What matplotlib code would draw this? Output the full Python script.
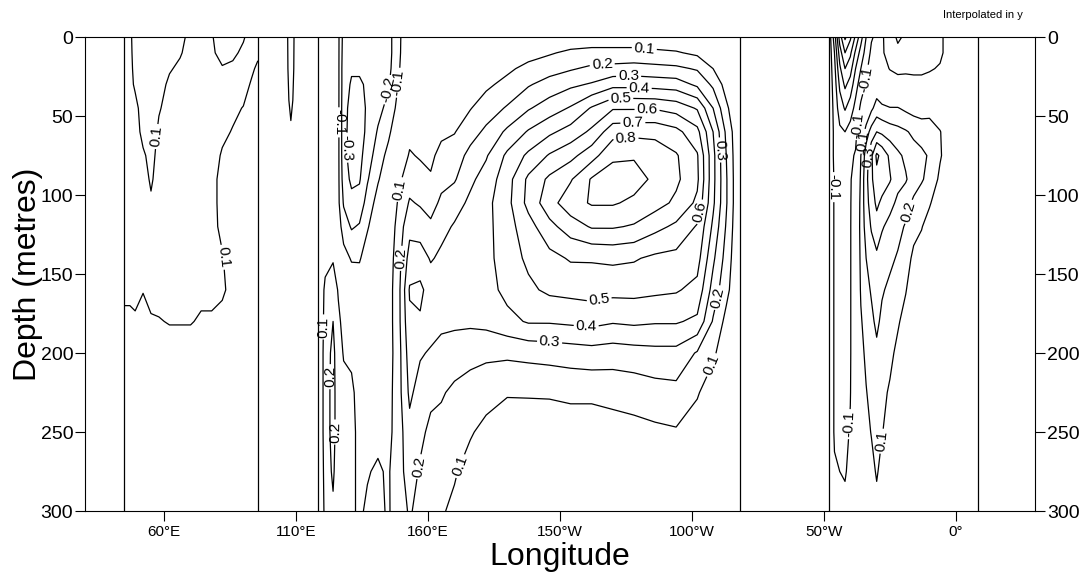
import numpy as np
import matplotlib.pyplot as plt

plt.rcParams["font.family"] = ["Liberation Sans", "DejaVu Sans"]
plt.rcParams["contour.negative_linestyle"] = "solid"

# Depth levels (m) shared by the three ocean sections
DEPTH = [0, 10, 20, 30, 45, 60, 75, 90, 105, 120, 140, 160, 180, 200, 225, 250, 275, 300]

# Indian Ocean: zonal velocity (m/s), one depth profile per longitude (deg E)
IND_LON = [44.8, 47, 49, 52, 55, 58, 62, 66, 70, 74, 78, 82, 86, 90, 93, 95.5]
IND_U = [
    [0.12, 0.12, 0.12, 0.12, 0.12, 0.12, 0.12, 0.12, 0.12, 0.12, 0.12, 0.12, 0.08, 0.05, 0.04, 0.03, 0.03, 0.03],
    [0.12, 0.12, 0.12, 0.12, 0.13, 0.13, 0.13, 0.13, 0.13, 0.13, 0.13, 0.12, 0.08, 0.05, 0.04, 0.03, 0.03, 0.03],
    [0.06, 0.07, 0.08, 0.09, 0.12, 0.13, 0.14, 0.14, 0.14, 0.14, 0.14, 0.12, 0.09, 0.05, 0.04, 0.03, 0.03, 0.03],
    [0.04, 0.04, 0.05, 0.06, 0.07, 0.08, 0.11, 0.13, 0.14, 0.14, 0.14, 0.105, 0.06, 0.05, 0.04, 0.03, 0.03, 0.03],
    [0.03, 0.03, 0.04, 0.05, 0.06, 0.07, 0.08, 0.09, 0.11, 0.13, 0.14, 0.13, 0.09, 0.05, 0.04, 0.03, 0.03, 0.03],
    [0.04, 0.05, 0.06, 0.08, 0.095, 0.11, 0.12, 0.13, 0.14, 0.14, 0.14, 0.13, 0.095, 0.06, 0.04, 0.03, 0.03, 0.03],
    [0.06, 0.08, 0.095, 0.11, 0.12, 0.13, 0.13, 0.14, 0.14, 0.14, 0.14, 0.13, 0.105, 0.06, 0.04, 0.03, 0.03, 0.03],
    [0.08, 0.095, 0.11, 0.12, 0.13, 0.13, 0.13, 0.14, 0.14, 0.14, 0.14, 0.13, 0.105, 0.06, 0.04, 0.03, 0.03, 0.03],
    [0.12, 0.12, 0.13, 0.13, 0.13, 0.13, 0.13, 0.13, 0.13, 0.13, 0.13, 0.13, 0.105, 0.06, 0.04, 0.03, 0.03, 0.03],
    [0.12, 0.13, 0.13, 0.13, 0.13, 0.13, 0.13, 0.13, 0.13, 0.13, 0.13, 0.12, 0.09, 0.06, 0.04, 0.03, 0.03, 0.03],
    [0.105, 0.11, 0.12, 0.13, 0.13, 0.13, 0.12, 0.12, 0.12, 0.12, 0.12, 0.12, 0.09, 0.05, 0.04, 0.03, 0.03, 0.03],
    [0.07, 0.08, 0.105, 0.12, 0.12, 0.11, 0.095, 0.08, 0.08, 0.085, 0.105, 0.11, 0.08, 0.05, 0.04, 0.03, 0.03, 0.03],
    [0.06, 0.09, 0.11, 0.115, 0.11, 0.097, 0.08, 0.06, 0.05, 0.05, 0.06, 0.08, 0.06, 0.05, 0.04, 0.03, 0.03, 0.03],
    [0.095, 0.11, 0.12, 0.12, 0.098, 0.08, 0.06, 0.05, 0.05, 0.05, 0.05, 0.05, 0.05, 0.04, 0.04, 0.03, 0.03, 0.03],
    [0.12, 0.12, 0.11, 0.095, 0.07, 0.06, 0.05, 0.05, 0.04, 0.04, 0.04, 0.04, 0.04, 0.04, 0.03, 0.03, 0.03, 0.03],
    [0.12, 0.11, 0.09, 0.07, 0.05, 0.05, 0.04, 0.04, 0.04, 0.04, 0.04, 0.04, 0.04, 0.03, 0.03, 0.03, 0.03, 0.03],
]

# Indonesian passages
MAR_LON = [95.5, 100, 104, 106, 108, 110, 113, 118.2]
MAR_DEPTH = [0, 20, 40, 55, 70, 100, 300]
MAR_U = [
    [0.0, 0.0, 0.0, 0.0, 0.0, 0.0, 0.0],
    [0.0, 0.0, 0.0, 0.0, 0.0, 0.0, 0.0],
    [0.0, 0.0, 0.0, 0.0, 0.0, 0.0, 0.0],
    [0.06, 0.06, 0.05, 0.04, 0.02, 0.0, 0.0],
    [0.16, 0.15, 0.13, 0.095, 0.05, 0.0, 0.0],
    [0.06, 0.06, 0.05, 0.04, 0.02, 0.0, 0.0],
    [0.0, 0.0, 0.0, 0.0, 0.0, 0.0, 0.0],
    [0.0, 0.0, 0.0, 0.0, 0.0, 0.0, 0.0],
]

# Pacific Ocean
PAC_LON = [118.2, 121, 124, 126, 128, 131, 134, 137, 141, 145, 149, 153, 157, 161, 165,
           170, 176, 182, 190, 198, 206, 214, 222, 230, 238, 246, 254, 262, 268, 273, 278.1]
PAC_U = [
    [0, 0, 0, 0, 0, 0, 0, 0, 0, 0, 0, 0, 0, 0, 0, 0, 0, 0],
    [-0.02, -0.02, -0.02, -0.02, -0.02, -0.02, -0.02, -0.02, -0.01, 0.0, 0.07, 0.12, 0.13, 0.14, 0.14, 0.14, 0.13, 0.12],
    [-0.05, -0.05, -0.05, -0.05, -0.05, -0.05, -0.05, -0.05, -0.05, -0.02, 0.09, 0.16, 0.2, 0.23, 0.24, 0.24, 0.22, 0.18],
    [-0.08, -0.08, -0.08, -0.08, -0.08, -0.08, -0.08, -0.08, -0.08, -0.05, 0.02, 0.09, 0.12, 0.13, 0.13, 0.13, 0.12, 0.12],
    [-0.24, -0.25, -0.26, -0.26, -0.27, -0.27, -0.27, -0.25, -0.21, -0.15, -0.06, 0.03, 0.07, 0.095, 0.12, 0.12, 0.12, 0.12],
    [-0.26, -0.27, -0.29, -0.31, -0.33, -0.34, -0.34, -0.32, -0.27, -0.21, -0.11, -0.03, 0.04, 0.09, 0.11, 0.11, 0.11, 0.11],
    [-0.27, -0.28, -0.29, -0.31, -0.33, -0.34, -0.33, -0.31, -0.26, -0.19, -0.11, -0.04, 0.02, 0.06, 0.08, 0.09, 0.09, 0.09],
    [-0.27, -0.28, -0.29, -0.29, -0.29, -0.28, -0.25, -0.21, -0.16, -0.11, -0.05, 0.0, 0.03, 0.05, 0.06, 0.08, 0.095, 0.11],
    [-0.26, -0.26, -0.26, -0.25, -0.23, -0.19, -0.15, -0.11, -0.06, -0.03, 0.0, 0.02, 0.04, 0.05, 0.06, 0.08, 0.11, 0.12],
    [-0.24, -0.24, -0.23, -0.21, -0.17, -0.12, -0.07, -0.03, 0.0, 0.02, 0.04, 0.05, 0.05, 0.05, 0.06, 0.07, 0.09, 0.09],
    [-0.11, -0.11, -0.105, -0.09, -0.06, -0.02, 0.03, 0.08, 0.12, 0.15, 0.17, 0.18, 0.18, 0.17, 0.17, 0.16, 0.17, 0.16],
    [-0.05, -0.04, -0.03, -0.01, 0.03, 0.07, 0.11, 0.16, 0.21, 0.27, 0.34, 0.41, 0.38, 0.35, 0.32, 0.27, 0.24, 0.21],
    [-0.02, -0.01, 0.0, 0.01, 0.03, 0.06, 0.09, 0.14, 0.19, 0.25, 0.35, 0.42, 0.39, 0.31, 0.26, 0.22, 0.19, 0.17],
    [0, 0, 0, 0.01, 0.02, 0.05, 0.08, 0.11, 0.16, 0.22, 0.29, 0.36, 0.34, 0.29, 0.22, 0.18, 0.15, 0.13],
    [0, 0, 0, 0.01, 0.04, 0.08, 0.13, 0.17, 0.22, 0.27, 0.32, 0.34, 0.32, 0.27, 0.21, 0.17, 0.14, 0.11],
    [0, 0, 0, 0.02, 0.06, 0.095, 0.15, 0.19, 0.26, 0.31, 0.33, 0.33, 0.32, 0.25, 0.18, 0.14, 0.11, 0.08],
    [0, 0, 0.02, 0.05, 0.095, 0.16, 0.23, 0.28, 0.32, 0.33, 0.34, 0.34, 0.32, 0.23, 0.16, 0.11, 0.06, 0.02],
    [0, 0.01, 0.05, 0.08, 0.15, 0.22, 0.29, 0.34, 0.37, 0.37, 0.37, 0.36, 0.33, 0.22, 0.14, 0.07, 0.02, 0],
    [0, 0.04, 0.08, 0.13, 0.21, 0.32, 0.42, 0.46, 0.47, 0.46, 0.45, 0.43, 0.37, 0.22, 0.11, 0.03, 0.01, 0],
    [0, 0.06, 0.13, 0.19, 0.29, 0.41, 0.52, 0.62, 0.63, 0.56, 0.52, 0.48, 0.41, 0.23, 0.11, 0.04, 0.01, 0],
    [0.02, 0.09, 0.16, 0.24, 0.35, 0.48, 0.61, 0.72, 0.76, 0.67, 0.57, 0.52, 0.41, 0.24, 0.11, 0.05, 0.01, 0],
    [0.03, 0.12, 0.19, 0.28, 0.41, 0.54, 0.67, 0.79, 0.86, 0.75, 0.61, 0.53, 0.42, 0.25, 0.12, 0.05, 0.01, 0],
    [0.04, 0.13, 0.22, 0.31, 0.51, 0.62, 0.76, 0.91, 0.91, 0.81, 0.61, 0.54, 0.43, 0.26, 0.12, 0.05, 0.02, 0],
    [0.04, 0.13, 0.23, 0.37, 0.59, 0.76, 0.88, 0.95, 0.91, 0.81, 0.62, 0.53, 0.41, 0.25, 0.13, 0.06, 0.02, 0],
    [0.04, 0.13, 0.24, 0.37, 0.59, 0.77, 0.89, 0.94, 0.88, 0.79, 0.61, 0.53, 0.42, 0.26, 0.14, 0.07, 0.02, 0],
    [0.03, 0.12, 0.23, 0.36, 0.59, 0.77, 0.86, 0.88, 0.84, 0.73, 0.58, 0.52, 0.41, 0.27, 0.16, 0.08, 0.02, 0],
    [0.02, 0.11, 0.22, 0.35, 0.56, 0.73, 0.81, 0.82, 0.78, 0.68, 0.57, 0.51, 0.41, 0.27, 0.17, 0.09, 0.02, 0],
    [0, 0.08, 0.19, 0.28, 0.49, 0.63, 0.71, 0.72, 0.68, 0.59, 0.54, 0.47, 0.38, 0.19, 0.11, 0.05, 0.01, 0],
    [0, 0.04, 0.1, 0.18, 0.3, 0.4, 0.43, 0.43, 0.42, 0.38, 0.32, 0.26, 0.19, 0.12, 0.04, 0.01, 0, 0],
    [0, 0.01, 0.03, 0.06, 0.12, 0.18, 0.2, 0.21, 0.21, 0.19, 0.16, 0.13, 0.07, 0.03, 0, 0, 0, 0],
    [0, 0, 0, 0, 0, 0, 0, 0, 0, 0, 0, 0, 0, 0, 0, 0, 0, 0],
]

# Atlantic Ocean (longitudes continue past 360 for the Gulf of Guinea)
ATL_LON = [311.8, 314, 316, 318, 320, 322, 324, 326, 328, 330, 332, 335, 338, 341, 344, 347, 350, 354, 358, 362, 368.3]
ATL_U = [
    [-0.02, -0.02, -0.02, -0.02, -0.02, -0.02, -0.02, -0.02, -0.02, -0.02, -0.02, -0.02, -0.02, -0.02, -0.02, -0.02, -0.02, -0.02],
    [-0.25, -0.2, -0.17, -0.15, -0.13, -0.12, -0.12, -0.11, -0.11, -0.11, -0.11, -0.11, -0.11, -0.11, -0.11, -0.11, -0.09, -0.05],
    [-0.55, -0.45, -0.38, -0.32, -0.25, -0.18, -0.15, -0.14, -0.14, -0.14, -0.14, -0.14, -0.13, -0.13, -0.13, -0.12, -0.1, -0.06],
    [-0.72, -0.6, -0.5, -0.42, -0.31, -0.2, -0.16, -0.15, -0.15, -0.15, -0.15, -0.14, -0.14, -0.14, -0.13, -0.13, -0.11, -0.07],
    [-0.62, -0.52, -0.44, -0.36, -0.25, -0.16, -0.12, -0.11, -0.11, -0.11, -0.11, -0.11, -0.11, -0.11, -0.105, -0.09, -0.07, -0.04],
    [-0.48, -0.38, -0.3, -0.24, -0.17, -0.13, -0.09, -0.05, -0.02, 0.0, 0.0, 0.0, 0.0, 0.0, 0.0, 0.0, 0.0, 0.0],
    [-0.34, -0.26, -0.2, -0.15, -0.08, 0.0, 0.1, 0.12, 0.13, 0.13, 0.12, 0.11, 0.09, 0.07, 0.05, 0.03, 0.01, 0.0],
    [-0.2, -0.16, -0.12, -0.09, -0.02, 0.15, 0.25, 0.27, 0.26, 0.24, 0.2, 0.17, 0.14, 0.12, 0.095, 0.07, 0.04, 0.01],
    [-0.11, -0.08, -0.05, -0.01, 0.08, 0.24, 0.38, 0.38, 0.35, 0.31, 0.25, 0.21, 0.18, 0.16, 0.13, 0.105, 0.07, 0.03],
    [-0.08, -0.06, -0.02, 0.04, 0.14, 0.3, 0.52, 0.47, 0.42, 0.36, 0.28, 0.24, 0.22, 0.18, 0.15, 0.12, 0.11, 0.07],
    [-0.09, -0.09, -0.06, 0.0, 0.12, 0.28, 0.47, 0.45, 0.38, 0.31, 0.25, 0.21, 0.18, 0.15, 0.12, 0.105, 0.07, 0.04],
    [-0.14, -0.13, -0.105, -0.04, 0.105, 0.25, 0.38, 0.41, 0.33, 0.27, 0.22, 0.18, 0.15, 0.12, 0.09, 0.06, 0.03, 0.01],
    [-0.22, -0.17, -0.13, -0.05, 0.105, 0.23, 0.32, 0.33, 0.28, 0.23, 0.19, 0.14, 0.11, 0.08, 0.05, 0.03, 0.01, 0.0],
    [-0.18, -0.16, -0.12, -0.06, 0.08, 0.21, 0.28, 0.31, 0.24, 0.19, 0.14, 0.105, 0.07, 0.04, 0.02, 0.0, 0.0, 0.0],
    [-0.15, -0.15, -0.12, -0.07, 0.06, 0.18, 0.24, 0.25, 0.18, 0.13, 0.08, 0.05, 0.03, 0.01, 0.0, 0.0, 0.0, 0.0],
    [-0.13, -0.14, -0.12, -0.07, 0.05, 0.16, 0.22, 0.21, 0.15, 0.105, 0.06, 0.03, 0.01, 0.0, 0.0, 0.0, 0.0, 0.0],
    [-0.12, -0.13, -0.11, -0.06, 0.07, 0.14, 0.19, 0.17, 0.11, 0.06, 0.03, 0.01, 0.0, 0.0, 0.0, 0.0, 0.0, 0.0],
    [-0.12, -0.12, -0.09, -0.04, 0.03, 0.105, 0.11, 0.08, 0.04, 0.02, 0.0, 0.0, 0.0, 0.0, 0.0, 0.0, 0.0, 0.0],
    [-0.05, -0.05, -0.03, -0.01, 0.01, 0.03, 0.04, 0.03, 0.01, 0.0, 0.0, 0.0, 0.0, 0.0, 0.0, 0.0, 0.0, 0.0],
    [0, 0, 0, 0, 0, 0, 0, 0, 0, 0, 0, 0, 0, 0, 0, 0, 0, 0],
    [0, 0, 0, 0, 0, 0, 0, 0, 0, 0, 0, 0, 0, 0, 0, 0, 0, 0],
]

COAST_LON = [44.8, 95.5, 118.2, 278.1, 311.8, 368.3]
LEVELS = [-0.7, -0.6, -0.5, -0.4, -0.3, -0.2, -0.1, 0.1, 0.2, 0.3, 0.4, 0.5, 0.6, 0.7, 0.8, 0.9]
TICK_LON = [60, 110, 160, 210, 260, 310, 360]
TICK_LABELS = ["60°E", "110°E", "160°E", "150°W", "100°W", "50°W", "0°"]

# where the contour labels sit (lon, depth)
IND_LABEL_AT = [(57.3, 63), (83.8, 139)]
PAC_LABEL_AT = [(242, 6), (226, 18), (236, 25), (240, 32), (233, 40), (243, 45),
                (237.6, 54), (235, 64), (270.5, 71.5), (264, 111), (269.8, 165),
                (268, 208), (225, 168), (220, 182), (206, 194), (156.9, 272),
                (172.8, 272), (150.5, 97), (148.6, 140), (145.2, 33.5), (149.3, 29),
                (125.8, 54), (129.2, 70), (120.2, 183.5), (123.6, 215), (125.5, 250)]
ATL_LABEL_AT = [(326.2, 27), (314.1, 95), (319.5, 245), (333, 256), (339.8, 109.5),
                (324, 56), (325, 66), (326.5, 76)]

fig = plt.figure(figsize=(10.83, 5.76), dpi=100)
ax = fig.add_axes([0.0785, 0.1128, 0.8772, 0.8229])
ax.set_xlim(30, 390)
ax.set_ylim(300, 0)

sections = [
    (IND_LON, DEPTH, IND_U, IND_LABEL_AT),
    (MAR_LON, MAR_DEPTH, MAR_U, None),
    (PAC_LON, DEPTH, PAC_U, PAC_LABEL_AT),
    (ATL_LON, DEPTH, ATL_U, ATL_LABEL_AT),
]
for lon, depth, u, label_at in sections:
    cs = ax.contour(lon, depth, np.array(u).T, levels=LEVELS,
                    colors="black", linewidths=0.9)
    if label_at:
        ax.clabel(cs, fmt="%.1f", fontsize=11, inline=True,
                  inline_spacing=2, manual=label_at)

for x in COAST_LON:
    ax.axvline(x, color="black", lw=0.9)

ax.set_xticks(TICK_LON)
ax.set_xticklabels(TICK_LABELS, fontsize=11)
ax.set_yticks([0, 50, 100, 150, 200, 250, 300])
ax.tick_params(axis="y", left=True, right=True, labelleft=True, labelright=True,
               direction="out", length=7, labelsize=14, pad=1.5)
ax.tick_params(axis="x", top=False, direction="out", length=7, pad=3)
ax.set_xlabel("Longitude", fontsize=23, labelpad=2)
ax.set_ylabel("Depth (metres)", fontsize=23, labelpad=-2)

fig.text(0.908, 0.974, "Interpolated in y", fontsize=8, ha="center", va="center")

fig.savefig("out.png", dpi=100)
